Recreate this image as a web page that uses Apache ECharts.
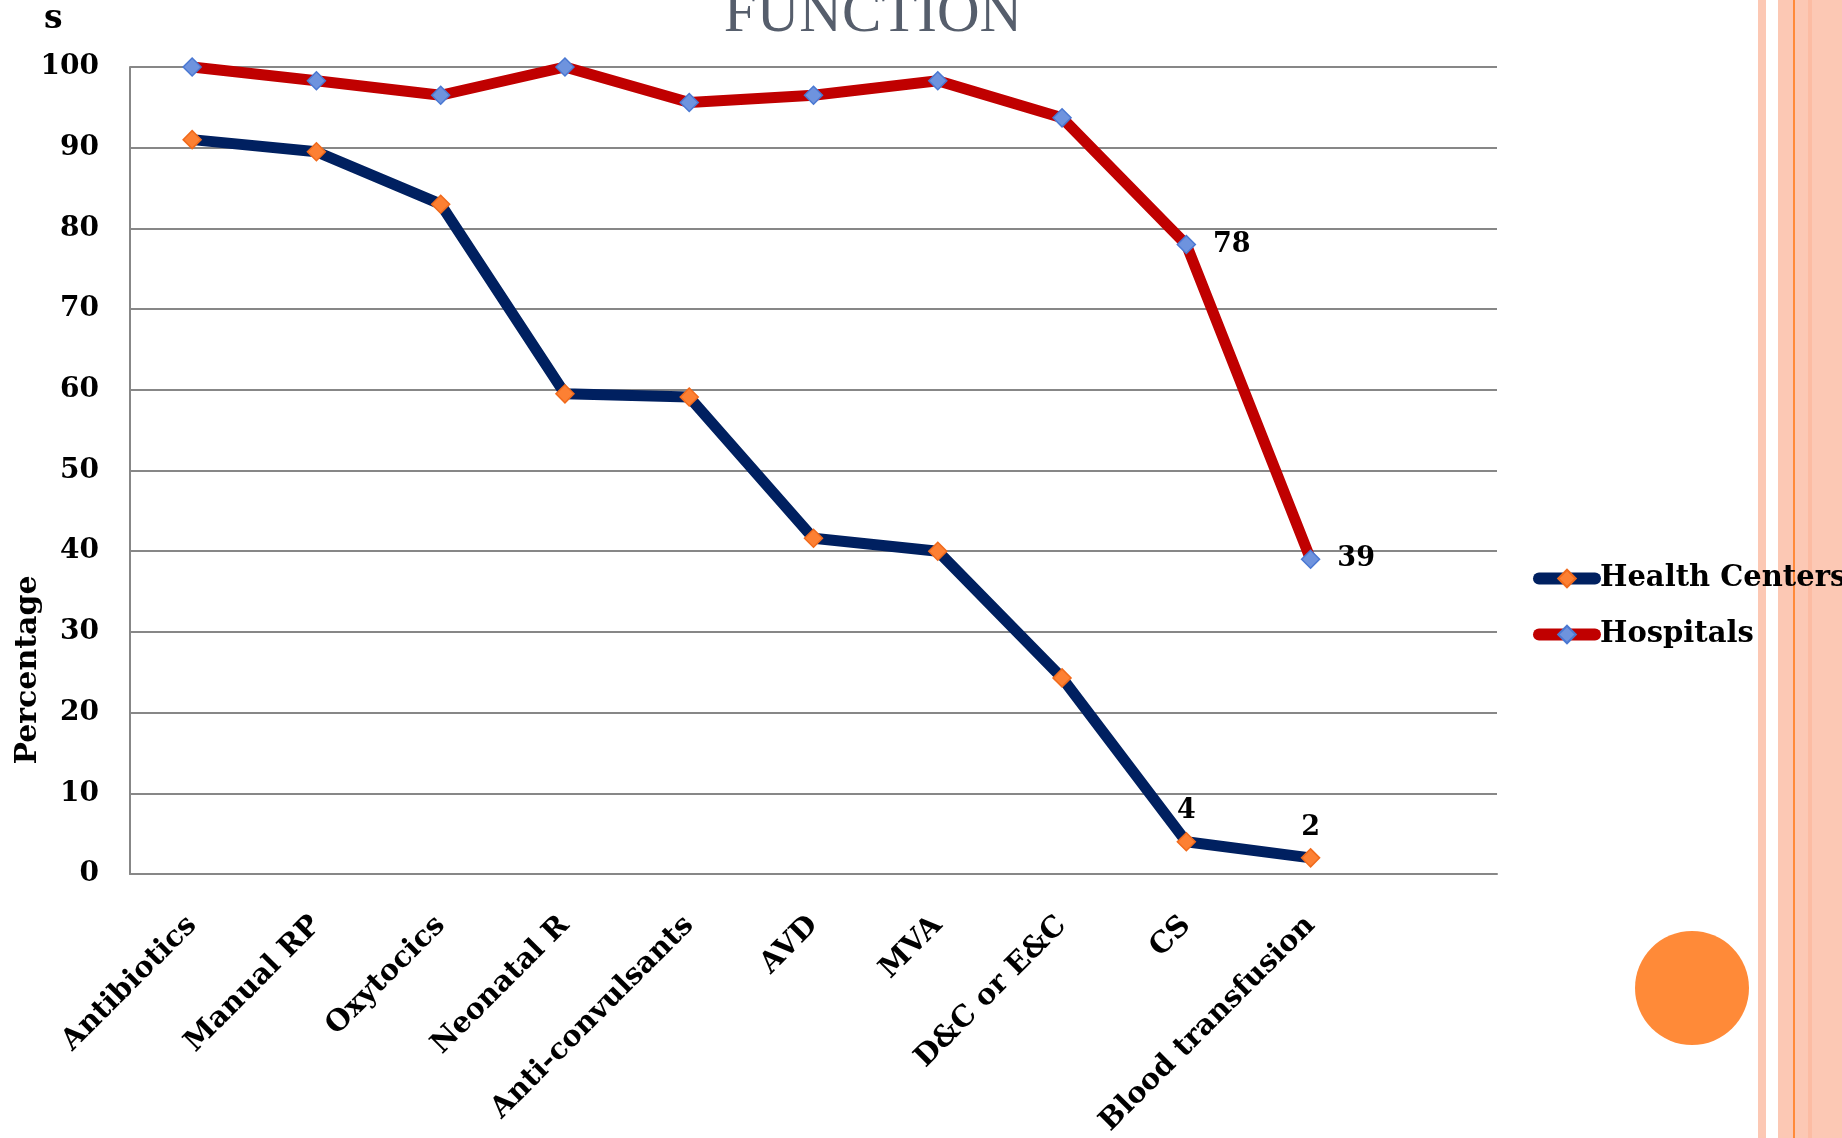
<!DOCTYPE html>
<html>
<head>
<meta charset="utf-8">
<script src="https://cdn.jsdelivr.net/npm/echarts@6/dist/echarts.min.js"></script>
<style>
  html, body { margin: 0; padding: 0; background: #ffffff; }
  #chart { width: 1842px; height: 1138px; }
</style>
</head>
<body>
<div id="chart"></div>
<script>
// Availability of emergency obstetric signal functions, by facility type (%)
const categories = ['Antibiotics', 'Manual RP', 'Oxytocics', 'Neonatal R', 'Anti-convulsants',
                    'AVD', 'MVA', 'D&C or E&C', 'CS', 'Blood transfusion', ''];
const healthCenters = [91, 89.5, 83, 59.5, 59.1, 41.6, 40, 24.3, 4, 2];
const hospitals = [100, 98.3, 96.5, 100, 95.6, 96.5, 98.3, 93.7, 78, 39];
const yTicks = [0, 10, 20, 30, 40, 50, 60, 70, 80, 90, 100];
// indices of points that carry a value label
const labeledPoints = [8, 9];

const FONT = 'DejaVu Serif';
const GRID_COLOR = '#878787';

function withLabels(values, position, distance) {
  return values.map((v, i) => labeledPoints.includes(i)
    ? { value: v, label: { show: true, position: position, distance: distance } }
    : v);
}

const chart = echarts.init(document.getElementById('chart'));
chart.setOption({
  animation: false,
  backgroundColor: '#ffffff',
  textStyle: { fontFamily: FONT },
  grid: {
    left: 130, top: 67, width: 1367, height: 807,
    containLabel: false, outerBoundsMode: 'none'
  },
  legend: {
    orient: 'vertical',
    left: 1533,
    top: 564,
    padding: 0,
    itemWidth: 56,
    itemHeight: 22,
    itemGap: 27,
    lineStyle: { width: 12, cap: 'round' },
    textStyle: { fontFamily: FONT, fontWeight: 'bold', fontSize: 29, color: '#000' },
    data: ['Health Centers', 'Hospitals']
  },
  xAxis: {
    type: 'category',
    data: categories,
    boundaryGap: true,
    axisLine: { show: true, lineStyle: { color: GRID_COLOR, width: 2 } },
    axisTick: { show: false },
    axisLabel: {
      interval: 0,
      rotate: 45,
      margin: 47,
      fontFamily: FONT,
      fontWeight: 'bold',
      fontSize: 29,
      color: '#000'
    }
  },
  yAxis: {
    type: 'value',
    min: yTicks[0],
    max: yTicks[yTicks.length - 1],
    interval: 10,
    axisLine: { show: true, lineStyle: { color: GRID_COLOR, width: 2 } },
    axisTick: { show: false },
    splitLine: { show: true, lineStyle: { color: GRID_COLOR, width: 2 } },
    axisLabel: {
      margin: 31,
      fontFamily: FONT,
      fontWeight: 'bold',
      fontSize: 28,
      color: '#000'
    }
  },
  series: [
    {
      name: 'Health Centers',
      type: 'line',
      data: withLabels(healthCenters, 'top', 7),
      symbol: 'diamond',
      symbolSize: 18,
      lineStyle: { color: '#002060', width: 11 },
      itemStyle: { color: '#FD8033', borderColor: '#F06A1C', borderWidth: 1.5 },
      label: { fontFamily: FONT, fontWeight: 'bold', fontSize: 27, color: '#000' },
      z: 3
    },
    {
      name: 'Hospitals',
      type: 'line',
      data: withLabels(hospitals, 'right', 17),
      symbol: 'diamond',
      symbolSize: 18,
      lineStyle: { color: '#C00000', width: 11 },
      itemStyle: { color: '#6E93DE', borderColor: '#4A78D2', borderWidth: 1.5 },
      label: { fontFamily: FONT, fontWeight: 'bold', fontSize: 27, color: '#000' },
      z: 3
    }
  ],
  graphic: [
    // slide border stripes on the right
    { type: 'rect', z: -10, shape: { x: 1758, y: 0, width: 8, height: 1138 }, style: { fill: '#FCC8B4' } },
    { type: 'rect', z: -10, shape: { x: 1778, y: 0, width: 64, height: 1138 }, style: { fill: '#FCC8B4' } },
    { type: 'rect', z: -9, shape: { x: 1808, y: 0, width: 4, height: 1138 }, style: { fill: '#FCBCA3' } },
    { type: 'rect', z: -9, shape: { x: 1793, y: 0, width: 2, height: 1138 }, style: { fill: '#FF8A3A' } },
    // orange slide accent dot
    { type: 'circle', z: -9, shape: { cx: 1692, cy: 988, r: 57 }, style: { fill: '#FF8A38' } },
    // slide heading (last line, partly above the page edge)
    {
      type: 'text', z: 5,
      style: {
        text: 'FUNCTION', x: 873, y: 15, align: 'center', verticalAlign: 'middle',
        fontFamily: 'Liberation Serif', fontSize: 59, fill: '#565E6C'
      }
    },
    {
      type: 'text', z: 5,
      style: {
        text: 's', x: 44, y: 19, align: 'left', verticalAlign: 'middle',
        fontFamily: FONT, fontWeight: 'bold', fontSize: 33, fill: '#000'
      }
    },
    // y-axis title
    {
      type: 'text', z: 5, x: 28, y: 670, rotation: Math.PI / 2,
      style: {
        text: 'Percentage', align: 'center', verticalAlign: 'middle',
        fontFamily: FONT, fontWeight: 'bold', fontSize: 30, fill: '#000'
      }
    }
  ]
});
</script>
</body>
</html>
